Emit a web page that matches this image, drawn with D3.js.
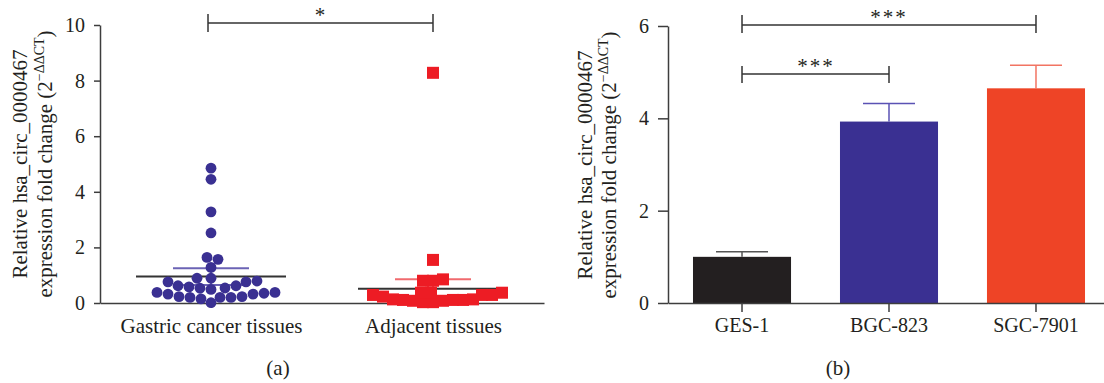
<!DOCTYPE html>
<html>
<head>
<meta charset="utf-8">
<script src="https://cdn.jsdelivr.net/npm/d3@7"></script>
<style>
  body { margin: 0; background: #fff; }
  svg text { font-family: "Liberation Serif", "DejaVu Serif", serif; fill: #231f20; }
</style>
</head>
<body>
<svg id="chart" width="1104" height="383"></svg>
<script>
// ---- data (a): scatter dot plot ----
const groupsA = ['Gastric cancer tissues', 'Adjacent tissues'];
const gastricValues = [4.85, 4.45, 3.28, 2.52, 1.64, 1.57, 1.28, 0.89, 0.79, 0.76, 0.76, 0.89,
  0.62, 0.54, 0.49, 0.62, 0.53, 0.58, 0.32, 0.23, 0.20, 0.20, 0.38, 0.35, 0.38, 0.20, 0.23,
  0.32, 0.15, 0.01];
const adjacentValues = [8.28, 1.55, 0.80, 0.80, 0.85, 0.11, 0.13, 0.37, 0.37, 0.08, 0.29, 0.03,
  0.23, 0.03, 0.13, 0.29, 0.08, 0.29, 0.37, 0.11, 0.11];
const meansA = [0.95, 0.51];
const semsA = [0.30, 0.34];
const ticksA = [0, 2, 4, 6, 8, 10];

// ---- data (b): bar chart ----
const cellLines = ['GES-1', 'BGC-823', 'SGC-7901'];
const barMeans = [1.0, 3.93, 4.65];
const barErrors = [0.11, 0.39, 0.5];
const ticksB = [0, 2, 4, 6];

const axisColor = '#3d3d3d';
const svg = d3.select('#chart');

// simple beeswarm: place lowest values first, nearest free spot to the centre
function swarm(values, y, minDist) {
  const pts = values.map(v => ({ v, y: y(v), dx: 0 })).sort((a, b) => a.v - b.v);
  const placed = [];
  pts.forEach((p, i) => {
    const dir = i % 2 ? -1 : 1;
    for (let k = 0; k < 200; k++) {
      let ok = false;
      for (const s of (k === 0 ? [0] : [dir * k, -dir * k])) {
        if (placed.every(q => (s - q.dx) ** 2 + (p.y - q.y) ** 2 >= minDist * minDist)) {
          p.dx = s; ok = true; break;
        }
      }
      if (ok) break;
    }
    placed.push(p);
  });
  return pts;
}

function yTitle(g, x1, x2, yc) {
  g.append('text')
    .attr('transform', `translate(${x1},${yc}) rotate(-90)`)
    .attr('text-anchor', 'middle')
    .style('font-size', '21px')
    .text('Relative hsa_circ_0000467');
  const t2 = g.append('text')
    .attr('transform', `translate(${x2},${yc}) rotate(-90)`)
    .attr('text-anchor', 'middle')
    .style('font-size', '21px');
  t2.append('tspan').text('expression fold change (2');
  t2.append('tspan').attr('dy', -8).style('font-size', '14px').text('−ΔΔCT');
  t2.append('tspan').attr('dy', 8).text(')');
}

function styleAxis(sel) {
  sel.attr('font-size', null).attr('font-family', null);
  sel.select('.domain').attr('stroke', axisColor).attr('stroke-width', 1.5);
  sel.selectAll('.tick line').attr('stroke', axisColor).attr('stroke-width', 1.5);
  sel.selectAll('.tick text')
    .style('font-size', '20px')
    .attr('fill', '#231f20');
}

function bracket(g, x1, x2, yLine, yTop, yBot, label, labelX) {
  const c = '#333';
  g.append('line').attr('x1', x1).attr('x2', x2).attr('y1', yLine).attr('y2', yLine)
    .attr('stroke', c).attr('stroke-width', 1.5);
  [x1, x2].forEach(x => g.append('line').attr('x1', x).attr('x2', x)
    .attr('y1', yTop).attr('y2', yBot).attr('stroke', c).attr('stroke-width', 1.5));
  g.append('text').attr('x', labelX).attr('y', yLine - 1)
    .attr('text-anchor', 'middle').style('font-size', '21px')
    .style('letter-spacing', '2px').text(label);
}

// ================= panel (a) =================
const gA = svg.append('g');
const xA = d3.scalePoint().domain(groupsA).range([100, 544]).padding(0.5);
const yA = d3.scaleLinear().domain([0, 10]).range([303, 25]);

gA.append('g').attr('transform', 'translate(100,0)')
  .call(d3.axisLeft(yA).tickValues(ticksA).tickFormat(d3.format('d'))
    .tickSize(6).tickPadding(9).tickSizeOuter(0))
  .call(styleAxis);
gA.append('g').attr('transform', 'translate(0,303)')
  .call(d3.axisBottom(xA).tickSize(5).tickPadding(10).tickSizeOuter(0))
  .call(styleAxis);
gA.selectAll('.tick text').filter(function () { return isNaN(+this.textContent); })
  .style('font-size', '21px');

const seriesA = [
  { name: groupsA[0], values: gastricValues, color: '#3a3092', semColor: '#6b63b5', shape: 'circle' },
  { name: groupsA[1], values: adjacentValues, color: '#ed1c24', semColor: '#f06a6e', shape: 'square' }
];

seriesA.forEach((s, i) => {
  const cx = xA(s.name);
  const m = meansA[i], se = semsA[i];
  // mean line and sem bars, behind the points
  gA.append('line').attr('x1', cx - 75).attr('x2', cx + 75)
    .attr('y1', yA(m)).attr('y2', yA(m)).attr('stroke', '#333').attr('stroke-width', 2);
  gA.append('line').attr('x1', cx).attr('x2', cx)
    .attr('y1', yA(m - se)).attr('y2', yA(m + se)).attr('stroke', s.semColor).attr('stroke-width', 2);
  [m - se, m + se].forEach(v => gA.append('line')
    .attr('x1', cx - 38).attr('x2', cx + 38).attr('y1', yA(v)).attr('y2', yA(v))
    .attr('stroke', s.semColor).attr('stroke-width', 2));

  const pts = swarm(s.values, yA, s.shape === 'circle' ? 10.4 : 9.6);
  if (s.shape === 'circle') {
    gA.selectAll(null).data(pts).enter().append('circle')
      .attr('cx', d => cx + d.dx).attr('cy', d => d.y).attr('r', 5.4)
      .attr('fill', s.color);
  } else {
    gA.selectAll(null).data(pts).enter().append('rect')
      .attr('x', d => cx + d.dx - 6).attr('y', d => d.y - 6)
      .attr('width', 12).attr('height', 12).attr('fill', s.color);
  }
});

bracket(gA, 208, xA(groupsA[1]), 23, 14, 32, '*', 321);
yTitle(gA, 27, 52, 164);
gA.append('text').attr('x', 278).attr('y', 375).attr('text-anchor', 'middle')
  .style('font-size', '21px').text('(a)');

// ================= panel (b) =================
const gB = svg.append('g');
const xB = d3.scaleBand().domain(cellLines).range([668, 1110])
  .paddingInner(0.333).paddingOuter(0.17);
const yB = d3.scaleLinear().domain([0, 6]).range([303, 26]);

const barColors = ['#231f20', '#3a3092', '#ee4426'];
const errColors = ['#555', '#5a52b4', '#f27462'];

// error bars (upper only, drawn under the bars)
cellLines.forEach((c, i) => {
  const cx = xB(c) + xB.bandwidth() / 2;
  const top = yB(barMeans[i] + barErrors[i]);
  gB.append('line').attr('x1', cx).attr('x2', cx).attr('y1', top).attr('y2', yB(barMeans[i]))
    .attr('stroke', errColors[i]).attr('stroke-width', 1.5);
  gB.append('line').attr('x1', cx - 26).attr('x2', cx + 26).attr('y1', top).attr('y2', top)
    .attr('stroke', errColors[i]).attr('stroke-width', 1.5);
});

gB.selectAll('.bar').data(cellLines).enter().append('rect')
  .attr('class', 'bar')
  .attr('x', d => xB(d))
  .attr('width', xB.bandwidth())
  .attr('y', (d, i) => yB(barMeans[i]))
  .attr('height', (d, i) => yB(0) - yB(barMeans[i]))
  .attr('fill', (d, i) => barColors[i]);

gB.append('g').attr('transform', 'translate(668,0)')
  .call(d3.axisLeft(yB).tickValues(ticksB).tickFormat(d3.format('d'))
    .tickSize(10).tickPadding(9).tickSizeOuter(0))
  .call(styleAxis);
gB.append('g').attr('transform', 'translate(0,303)')
  .call(d3.axisBottom(xB).tickSize(9).tickPadding(6).tickSizeOuter(0))
  .call(styleAxis);

const cB = c => xB(c) + xB.bandwidth() / 2;
bracket(gB, cB(cellLines[0]), cB(cellLines[2]), 25, 15, 33, '***', cB(cellLines[1]));
bracket(gB, cB(cellLines[0]), cB(cellLines[1]), 74, 66, 83, '***', 816);
yTitle(gB, 592, 616, 165);
gB.append('text').attr('x', 838).attr('y', 375).attr('text-anchor', 'middle')
  .style('font-size', '21px').text('(b)');
</script>
</body>
</html>
